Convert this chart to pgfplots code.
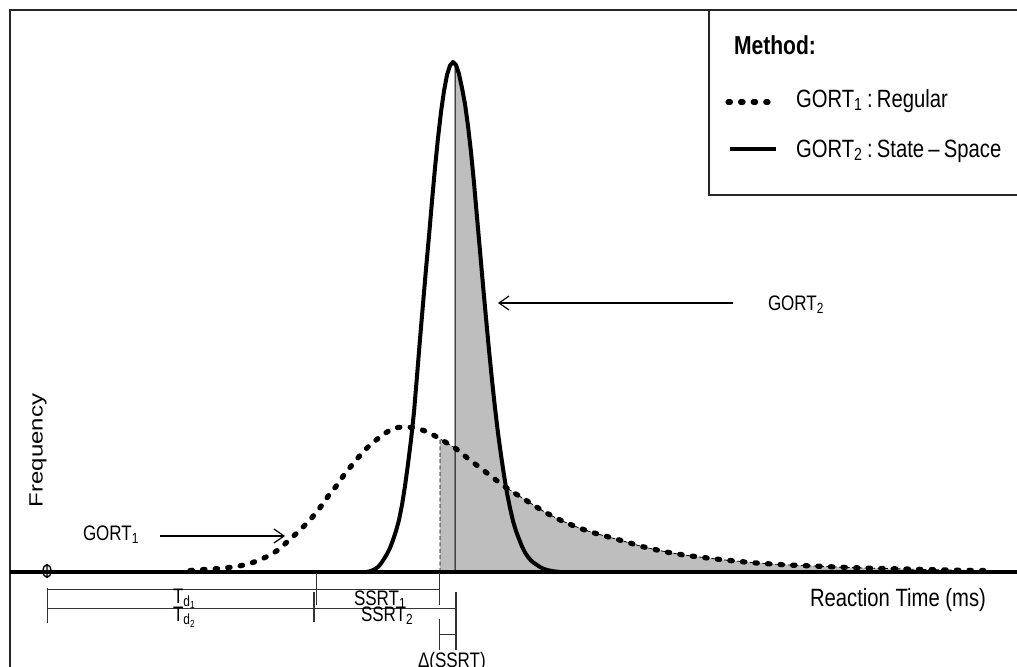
\documentclass[border=0pt]{standalone}
\usepackage{fontspec}
\setmainfont{Liberation Sans}[FakeStretch=0.81]
\newfontfamily\widefont{Liberation Sans}
\usepackage{graphicx}
\usepackage{pgfplots}
\pgfplotsset{compat=1.18}
\usetikzlibrary{arrows.meta}
\definecolor{rgray}{HTML}{BEBEBE}
\tikzset{lab/.style={inner sep=0pt, outer sep=0pt, anchor=base west}}

% x = pixel column, y = pixels above the base line (row 572)
\pgfplotstableread{
x y
366 0
369 0.5
372 1.5
375 3
378 5
381 8.5
384 13
387 18
390 24
393 32
396 41
399 52
402 67
405 86
408 108
411 132
414 160
417 196
420 233
423 268
426 303
429 336
432 371
435 404
438 434
441 460
444 481
447 497
450 506.5
453 510
456 507
459 498
462 484
465 468
468 446
471 420
474 389
477 355
480 321
483 287
486 254
489 222
492 192
495 164
498 139
501 117
504 97
507 79
510 64
513 51
516 41
519 33
522 25.5
525 19.5
528 15
531 11.5
534 9
537 7
540 5
544 3
548 1.8
553 0.8
560 0
}\gortB

\pgfplotstableread{
x y
190 1.5
203 2.5
220 3.5
233 5
247 7.7
258 11.5
270 17
280 23.5
288 31
298 40
307 49
315 58
322 67
329 77
337 87
344 97
352 107
360 116.5
368 125
377 132.7
387 140
398 144.5
412 144.5
425 141
437 135
446 129.5
455 124
468 113.5
483 102
494 93.5
506 84.5
520 75.5
543 61
557 53.5
567 49
578 44.5
590 40.3
604 36.3
617 32.7
630 29
642 25.5
655 22.5
668 19.7
682 17.3
697 15.3
711 13.6
725 12
753 9.3
783 7.3
813 6
843 4.7
873 3.7
905 3
935 2.3
967 1.7
985 1.4
}\gortA

\begin{document}
\begin{tikzpicture}
\begin{axis}[
  scale only axis, width=510pt, height=335pt,
  xmin=10, xmax=1030, ymin=-108, ymax=562,
  xtick=\empty, ytick=\empty,
  axis line style={line width=0.8pt, black!85},
  clip=false,
]
\coordinate (bl) at (axis cs:0,-94);
\coordinate (tr) at (axis cs:1017,572);

% shaded areas
\addplot[fill=rgray, draw=black, line width=0.4pt, dash pattern=on 2pt off 1.2pt]
  coordinates {(440,0) (440,133.2) (446,129.5) (455,124) (468,113.5) (483,102)
  (494,93.5) (506,84.5) (520,75.5) (543,61) (557,53.5) (567,49) (578,44.5)
  (590,40.3) (604,36.3) (617,32.7) (630,29) (642,25.5) (655,22.5) (668,19.7)
  (682,17.3) (697,15.3) (711,13.6) (725,12) (753,9.3) (783,7.3) (813,6)
  (843,4.7) (873,3.7) (905,3) (935,2.3) (967,1.7) (985,1.4) (985,0)} \closedcycle;
\addplot[fill=rgray, draw=black, line width=0.5pt]
  coordinates {(455,0) (455,508) (456,507) (459,498) (462,484) (465,468) (468,446)
  (471,420) (474,389) (477,355) (480,321) (483,287) (486,254) (489,222)
  (492,192) (495,164) (498,139) (501,117) (504,97) (507,79) (510,64) (513,51)
  (516,41) (519,33) (522,25.5) (525,19.5) (528,15) (531,11.5) (534,9) (537,7)
  (540,5) (544,3) (548,1.8) (553,0.8) (560,0)} \closedcycle;

% curves
\addplot[black, line width=2.6pt, line cap=round, dash pattern=on 1.2pt off 5.1pt, smooth]
  table[x=x, y=y] {\gortA};
\addplot[black, line width=2pt, line join=round] table[x=x, y=y] {\gortB};

% base line
\draw[line width=2pt] (10,0) -- (1030,0);
\addplot[only marks, mark=oplus, mark size=3.2pt,
  mark options={xscale=0.62, line width=0.7pt, black}] coordinates {(47,1)};

% labels
\node[lab, font=\fontsize{12.5}{14}\selectfont] at (810,-34.7) {Reaction Time (ms)};
\node[rotate=90, anchor=base, inner sep=0pt, font=\widefont\fontsize{12}{14}\selectfont]
  at (42.7,121.5) {\scalebox{1}[0.8]{Frequency}};

\node[lab, font=\fontsize{10.5}{12}\selectfont] at (83,31.3) {GORT\textsubscript{1}};
\draw[line width=0.6pt, -{Straight Barb[length=5pt,width=7pt]}] (160,36) -- (285,36);
\node[lab, font=\fontsize{10.5}{12}\selectfont] at (768,262) {GORT\textsubscript{2}};
\draw[line width=0.6pt, -{Straight Barb[length=5pt,width=7pt]}] (733,269) -- (498,269);

% legend
\draw[line width=0.8pt, black!85] (709,562) -- (709,377) -- (1040,377);
\node[lab, font=\bfseries\fontsize{13}{15}\selectfont] at (734,517) {Method:};
\draw[black, line width=2.6pt, line cap=round, dash pattern=on 1.2pt off 5.1pt] (728,470) -- (768,470);
\node[lab, font=\fontsize{12.5}{14}\selectfont] at (796,465) {GORT\textsubscript{1}\,:\,Regular};
\draw[black, line width=2pt] (730,423) -- (776,423);
\node[lab, font=\fontsize{12.5}{14}\selectfont] at (796,415) {GORT\textsubscript{2}\,:\,State\,--\,Space};

% reaction time decomposition
\begin{scope}[line width=0.7pt, black!80]
\draw (47.7,-16) -- (47.7,-50.7);
\draw (47.7,-17.3) -- (439.3,-17.3);
\draw (47.7,-36.3) -- (456,-36.3);
\draw (316.7,-1) -- (316.7,-33);
\draw (314,-19.7) -- (314,-49.7);
\draw (439.3,-1) -- (439.3,-33);
\draw (439.3,-47) -- (439.3,-78);
\draw (456,-19.7) -- (456,-78);
\draw (439.3,-62.3) -- (456,-62.3);
\end{scope}
\node[lab, font=\fontsize{10.5}{12}\selectfont] at (173,-31.3) {T\textsubscript{d\textsubscript{1}}};
\node[lab, font=\fontsize{10.5}{12}\selectfont] at (173,-49.7) {T\textsubscript{d\textsubscript{2}}};
\node[lab, font=\fontsize{10.5}{12}\selectfont] at (354,-33.7) {SSRT\textsubscript{1}};
\node[lab, font=\fontsize{10.5}{12}\selectfont] at (361,-49) {SSRT\textsubscript{2}};
\node[lab, font=\fontsize{10.5}{12}\selectfont] at (418,-95) {Δ(SSRT)};
\end{axis}
\pgfresetboundingbox
\path[use as bounding box] (bl) rectangle (tr);
\end{tikzpicture}
\end{document}
